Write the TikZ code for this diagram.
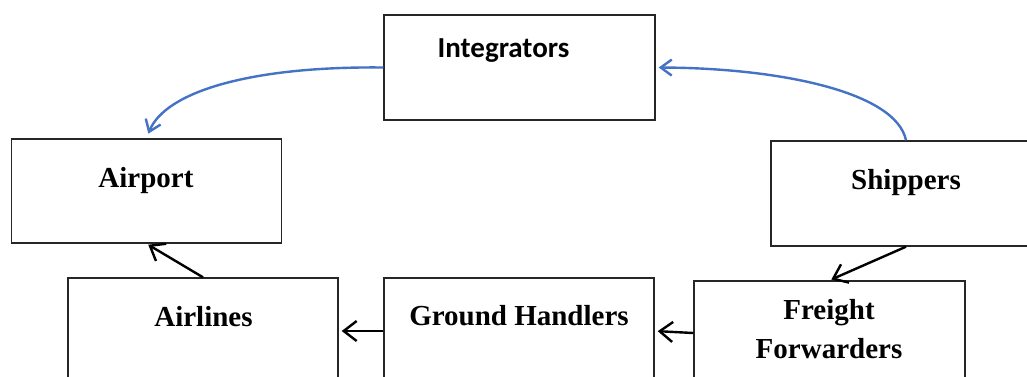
\documentclass[tikz,border=0pt]{standalone}
\usepackage{fontspec}
\setmainfont{Liberation Serif}
\newfontfamily\calib{Carlito}
\usetikzlibrary{arrows.meta}
\definecolor{wordblue}{RGB}{68,114,196}
\begin{document}
\begin{tikzpicture}[x=1pt,y=-1pt,
  box/.style={draw=black!85,line width=1.4pt,rectangle,minimum width=270pt,minimum height=106pt,inner sep=0pt,fill=none},
  lbl/.style={anchor=base,inner sep=0pt,font=\fontsize{29}{34}\selectfont\bfseries},
  blk/.style={line width=2.4pt,-{Straight Barb[length=13pt,width=20pt,line width=2.4pt]}},
  blu/.style={draw=wordblue,line width=2.4pt,-{Straight Barb[length=11pt,width=16pt,line width=2.4pt]}}]
\clip (0,0) rectangle (1027,376);
\fill[white] (0,0) rectangle (1027,376);
% boxes
\node[box,minimum width=271pt,minimum height=105pt] (integ) at (519.5,67.5) {};
\node[box,minimum width=270pt,minimum height=104pt] (airport) at (146.5,191) {};
\node[box,minimum width=270pt,minimum height=105pt] (ship) at (906,193.5) {};
\node[box,minimum width=270pt,minimum height=106pt] (airlines) at (203,331) {};
\node[box,minimum width=270pt,minimum height=106pt] (gh) at (519,331) {};
\node[box,minimum width=271pt,minimum height=104pt] (ff) at (829.5,333) {};
% texts
\node[lbl,font=\fontsize{29}{34}\selectfont\calib\bfseries] (tinteg) at (503.5,57) {Integrators};
\node[lbl] (tairport) at (146,187) {Airport};
\node[lbl] (tship) at (906,189) {Shippers};
\node[lbl] (tairlines) at (203.5,326) {Airlines};
\node[lbl] (tgh) at (519,325) {Ground Handlers};
\node[lbl] (tff1) at (829,319) {Freight};
\node[lbl] (tff2) at (829,358) {Forwarders};
% connectors
\draw[blu,shorten >=5pt] (integ.west) .. controls (250,66) and (165,92) .. (airport.north);
\draw[blu,shorten >=3pt] (ship.north) .. controls (896,92) and (780,68) .. (integ.east);
\draw[blk,shorten >=2pt] (ship.south) -- (ff.north);
\draw[blk,shorten >=3pt] (ff.west) -- (gh.east);
\draw[blk,shorten >=3pt] (gh.west) -- (airlines.east);
\draw[blk,shorten >=2pt] (airlines.north) -- (airport.south);
\end{tikzpicture}
\end{document}
